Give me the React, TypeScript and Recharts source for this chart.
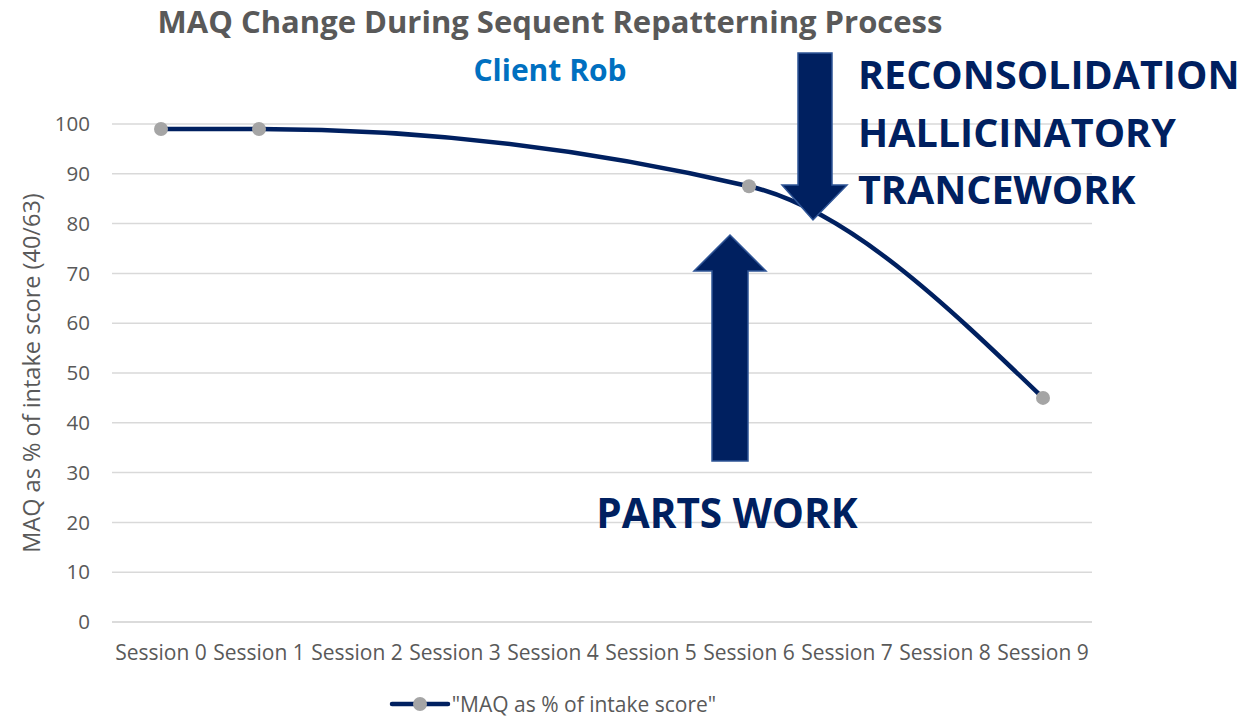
import React from 'react';
import { LineChart, Line, XAxis, YAxis, CartesianGrid, Legend } from 'recharts';

const sessions = ['Session 0', 'Session 1', 'Session 2', 'Session 3', 'Session 4', 'Session 5', 'Session 6', 'Session 7', 'Session 8', 'Session 9'];
const maqValues: (number | null)[] = [99, 99, null, null, null, null, 87.5, null, null, 45];
const yTicks = [0, 10, 20, 30, 40, 50, 60, 70, 80, 90, 100];

const seriesName = '"MAQ as % of intake score"';
const data = sessions.map((s, i) => ({ session: s, maq: maqValues[i] }));

const FONT = '"Open Sans", sans-serif';
const NAVY = '#002060';

const YLabel = (props: any) => {
  const vb = props.viewBox || {};
  const cy = (vb.y ?? 124) + (vb.height ?? 498) / 2;
  return (
    <text x={34} y={cy} transform={`rotate(-90, 34, ${cy})`} textAnchor="middle" dominantBaseline="middle"
      fill="#595959" fontSize={23.5} fontFamily={FONT}>
      MAQ as % of intake score (40/63)
    </text>
  );
};

const LegendContent = () => (
  <div style={{ height: 24, display: 'flex', justifyContent: 'center', alignItems: 'center', fontFamily: FONT, fontSize: 21, color: '#595959', paddingRight: 138 }}>
    <svg width={62} height={24} style={{ marginRight: 1 }}>
      <line x1={3} y1={12} x2={59} y2={12} stroke={NAVY} strokeWidth={4.5} strokeLinecap="round" />
      <circle cx={31} cy={12} r={7} fill="#A5A5A5" />
    </svg>
    <span>{seriesName}</span>
  </div>
);

export default function App() {
  return (
    <div style={{ position: 'absolute', left: 0, top: 0, width: 1243, height: 716, background: '#fff', fontFamily: FONT }}>
      <LineChart width={1243} height={716} data={data} margin={{ top: 124, right: 151, bottom: 40, left: 0 }}>
        <CartesianGrid vertical={false} stroke="#D9D9D9" strokeWidth={1.5} />
        <XAxis dataKey="session" tickLine={false} axisLine={{ stroke: '#D9D9D9', strokeWidth: 1.5 }} tickSize={0} tickMargin={23}
          padding={{ left: 49, right: 49 }} height={30}
          tick={{ fill: '#595959', fontSize: 21, fontFamily: FONT }} interval={0} />
        <YAxis domain={[0, 100]} ticks={yTicks} width={112} tickLine={false} axisLine={false} tickSize={0} tickMargin={22}
          tick={{ fill: '#595959', fontSize: 20.5, fontFamily: FONT }} label={<YLabel />} />
        <Legend verticalAlign="bottom" content={<LegendContent />} wrapperStyle={{ bottom: 0, left: 0, width: 1243 }} />
        <Line type="monotone" dataKey="maq" name={seriesName} stroke={NAVY} strokeWidth={4.5} connectNulls isAnimationActive={false}
          dot={{ r: 7, fill: '#A5A5A5', stroke: 'none' }} activeDot={false} />
      </LineChart>
      <svg width={1243} height={716} style={{ position: 'absolute', left: 0, top: 0, pointerEvents: 'none' }}>
        <text x={550} y={33} textAnchor="middle" fill="#595959" fontSize={31} fontWeight={700} fontFamily={FONT}>
          MAQ Change During Sequent Repatterning Process
        </text>
        <text x={550} y={81} textAnchor="middle" fill="#0070C0" fontSize={30} fontWeight={700} fontFamily={FONT}>
          Client Rob
        </text>
        <polygon points="798,53 832,53 832,185 847,185 813,220 782,185 798,185" fill={NAVY} stroke="#2F5597" strokeWidth={1.5} />
        <polygon points="730,235 766,271 748,271 748,461 712,461 712,271 694,271" fill={NAVY} stroke="#2F5597" strokeWidth={1.5} />
        <g fill={NAVY} fontWeight={700} fontFamily={FONT}>
          <text x={858} y={89} fontSize={39.5}>RECONSOLIDATION</text>
          <text x={858} y={147} fontSize={39.5}>HALLICINATORY</text>
          <text x={858} y={204} fontSize={39.5}>TRANCEWORK</text>
          <text x={727} y={528} fontSize={40.5} textAnchor="middle">PARTS WORK</text>
        </g>
      </svg>
    </div>
  );
}
